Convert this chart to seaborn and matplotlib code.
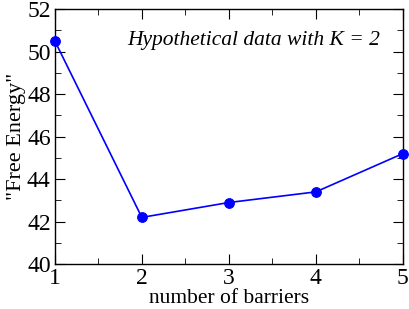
import pandas as pd
import matplotlib.pyplot as plt
import matplotlib.ticker as mticker
import seaborn as sns

# ── Data ───────────────────────────────────────────────────────────────────────
barriers = [1, 2, 3, 4, 5]
free_energy = [50.5, 42.2, 42.9, 43.4, 45.2]

df = pd.DataFrame({"barriers": barriers, "energy": free_energy})

# ── Style ──────────────────────────────────────────────────────────────────────
sns.set_style("ticks")
plt.rcParams.update({
    "font.family": ["Liberation Serif", "DejaVu Serif"],
    "text.color": "black",
    "axes.labelcolor": "black",
    "xtick.color": "black",
    "ytick.color": "black",
    "xtick.direction": "in",
    "ytick.direction": "in",
    "xtick.top": True,
    "ytick.right": True,
    "xtick.major.size": 7,
    "ytick.major.size": 7,
    "xtick.minor.size": 4,
    "ytick.minor.size": 4,
    "axes.linewidth": 1.0,
    "axes.edgecolor": "black",
})

fig = plt.figure(figsize=(4.09, 3.09), dpi=100)
ax = fig.add_axes([0.134, 0.145, 0.851, 0.826])

sns.lineplot(data=df, x="barriers", y="energy", ax=ax,
             color="#0000FF", linewidth=1.2, marker="o", markersize=7,
             markeredgecolor="#0000FF", clip_on=False, zorder=3)

ax.set_xlim(1, 5)
ax.set_ylim(40, 52)
ax.xaxis.set_major_locator(mticker.MultipleLocator(1))
ax.xaxis.set_minor_locator(mticker.MultipleLocator(0.5))
ax.yaxis.set_major_locator(mticker.MultipleLocator(2))
ax.yaxis.set_minor_locator(mticker.MultipleLocator(1))
ax.tick_params(which="both", top=True, right=True, labelsize=17, pad=3)

ax.set_xlabel("number of barriers", fontsize=15.5, labelpad=0)
ax.set_ylabel('"Free Energy"', fontsize=16, labelpad=1)

ax.text(0.934, 0.878, "Hypothetical data with K = 2", transform=ax.transAxes,
        ha="right", va="center", fontsize=15.5, style="italic")

plt.savefig("out.png", dpi=100)
